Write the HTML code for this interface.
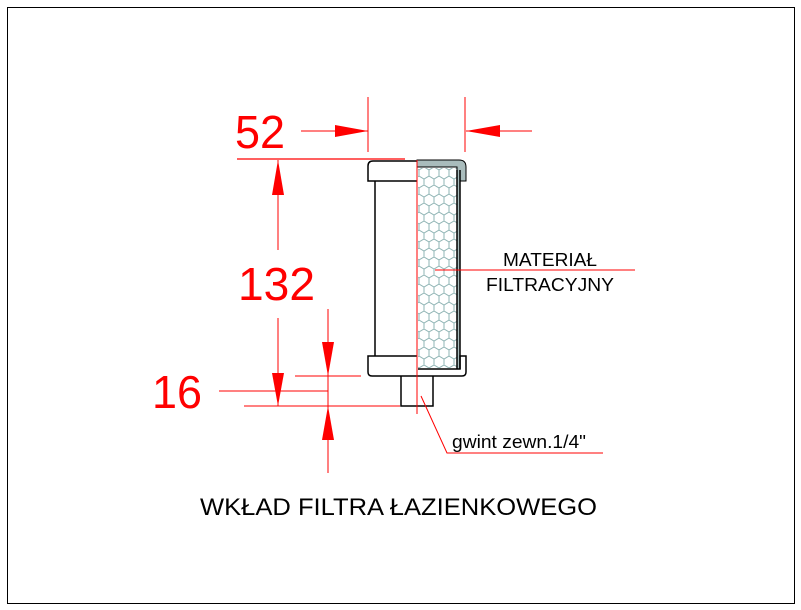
<!DOCTYPE html>
<html><head><meta charset="utf-8"><style>
html,body{margin:0;padding:0;background:#fff;}
svg{display:block;}
text{font-family:"Liberation Sans",sans-serif;}
</style></head><body>
<svg width="801" height="610" viewBox="0 0 801 610" xmlns="http://www.w3.org/2000/svg">
<defs>
<pattern id="hex" width="10" height="18" patternUnits="userSpaceOnUse" x="419" y="167">
<path d="M0,3 L5,0 L10,3 M0,3 L0,9 M10,3 L10,9 M0,9 L5,12 L10,9 M5,12 L5,18" fill="none" stroke="#8fb4b4" stroke-width="1"/>
</pattern>
</defs>
<rect x="0" y="0" width="801" height="610" fill="#fff"/>
<rect x="7.5" y="7.5" width="787" height="596" fill="none" stroke="#000" stroke-width="1"/>

<rect x="418" y="168" width="39" height="200" fill="#fff"/>
<rect x="418" y="168" width="39" height="200" fill="url(#hex)"/>
<path d="M417,160 L459,160 Q466,160 466,167 L466,181 L460,181 L460,369 L457,369 L457,167 L417,167 Z" fill="#a9bcbc" stroke="#000" stroke-width="1"/>
<line x1="457" y1="170" x2="457" y2="369" stroke="#000" stroke-width="1.5"/>
<line x1="460" y1="170" x2="460" y2="369" stroke="#000" stroke-width="1.5"/>
<path d="M417,161 L373,161 Q368,161 368,166 L368,181 L417,181" fill="#fff" stroke="#000" stroke-width="1.5"/>
<line x1="375" y1="181" x2="375" y2="356" stroke="#000" stroke-width="1.5"/>
<path d="M417,356 L368,356 L368,372 Q368,376 372,376 L462,376 Q466,376 466,372 L466,356 L460,356 L460,369 L418,369" fill="none" stroke="#000" stroke-width="1.5"/>
<path d="M401,376 L401,406 L433,406 L433,376" fill="none" stroke="#000" stroke-width="1.5"/>

<g stroke="#f00" stroke-width="1" fill="none">
<line x1="417" y1="160" x2="417" y2="414"/>
<line x1="237" y1="159" x2="405" y2="159" stroke-width="1.2"/>
<line x1="368" y1="97" x2="368" y2="152"/>
<line x1="465" y1="97" x2="465" y2="152"/>
<line x1="301" y1="131" x2="368" y2="131"/>
<line x1="466" y1="131" x2="532" y2="131"/>
<line x1="278" y1="160" x2="278" y2="250"/>
<line x1="278" y1="318" x2="278" y2="406"/>
<line x1="295" y1="376" x2="361" y2="376"/>
<line x1="219" y1="391" x2="328" y2="391"/>
<line x1="244" y1="406" x2="400" y2="406"/>
<line x1="328" y1="309" x2="328" y2="473"/>
<line x1="435" y1="270" x2="635" y2="270"/>
<polyline points="421,396 447,453 603,453"/>
</g>
<g fill="#f00">
<polygon points="368,131 335,125 335,137"/>
<polygon points="466,131 500,125 500,137"/>
<polygon points="278,160 272,195 284,195"/>
<polygon points="278,406 272,373 284,373"/>
<polygon points="328,376 322,342 334,342"/>
<polygon points="328,406 322,440 334,440"/>
</g>
<text x="235" y="148" font-size="46" fill="#f00" textLength="50" lengthAdjust="spacingAndGlyphs">52</text>
<text x="238" y="300" font-size="46" fill="#f00" textLength="77" lengthAdjust="spacingAndGlyphs">132</text>
<text x="152" y="408" font-size="46" fill="#f00" textLength="50" lengthAdjust="spacingAndGlyphs">16</text>

<text x="503" y="266" font-size="18" fill="#000" textLength="94" lengthAdjust="spacingAndGlyphs">MATERIAŁ</text>
<text x="486" y="291" font-size="18" fill="#000" textLength="128" lengthAdjust="spacingAndGlyphs">FILTRACYJNY</text>
<text x="452" y="448" font-size="18" fill="#000" textLength="134" lengthAdjust="spacingAndGlyphs">gwint zewn.1/4"</text>
<text x="200" y="515" font-size="24" fill="#000" textLength="397" lengthAdjust="spacingAndGlyphs">WKŁAD FILTRA ŁAZIENKOWEGO</text>
</svg>
</body></html>
